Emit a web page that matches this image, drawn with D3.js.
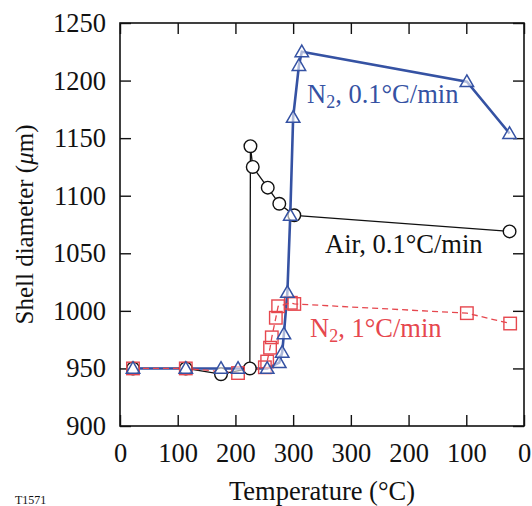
<!DOCTYPE html>
<html>
<head>
<meta charset="utf-8">
<script src="https://cdn.jsdelivr.net/npm/d3@7"></script>
<style>
  html, body { margin: 0; padding: 0; background: #fff; }
  svg { display: block; }
  text { font-family: "Liberation Serif", "Times New Roman", Times, serif; }
</style>
</head>
<body>
<svg id="chart" width="532" height="506"></svg>
<script>
// Process axis: heating 0 -> 300 °C, hold, then cooling 300 -> 0 °C.
// Each unit along the axis is one labelled step.
const xTickPos = [0, 1, 2, 3, 4, 5, 6, 7];
const xTickLabels = ["0", "100", "200", "300", "300", "200", "100", "0"];
const yTicks = [900, 950, 1000, 1050, 1100, 1150, 1200, 1250];

// Air, 0.1 °C/min
const airX = [0.225, 1.14, 1.75, 2.25, 2.26, 2.30, 2.56, 2.76, 3.02, 6.75];
const airY = [950, 950, 945, 950, 1143, 1125, 1107, 1093, 1083, 1069];

// N2, 1 °C/min
const n2FastX = [0.225, 1.14, 2.045, 2.51, 2.55, 2.60, 2.63, 2.70, 2.74, 2.96, 3.02, 6.01, 6.76];
const n2FastY = [950, 950, 946, 951, 956, 968, 977, 994, 1004, 1007, 1006, 998, 989];

// N2, 0.1 °C/min
const n2SlowX = [0.225, 1.14, 1.75, 2.045, 2.55, 2.76, 2.81, 2.84, 2.90, 2.95, 3.00, 3.10, 3.15, 6.01, 6.75];
const n2SlowY = [950, 950, 950, 950, 950, 955, 964, 980, 1016, 1083, 1168, 1213, 1225, 1199, 1154];

const BLUE = "#3552a3";
const RED = "#e6474e";

const svg = d3.select("#chart");
const plotL = 120, plotR = 524, plotT = 23, plotB = 426;

const x = d3.scaleLinear().domain([0, 7]).range([plotL, plotR]);
const y = d3.scaleLinear().domain([900, 1250]).range([plotB, plotT]);

const zip = (xs, ys) => xs.map((v, i) => ({ x: v, y: ys[i] }));
const air = zip(airX, airY);
const n2Fast = zip(n2FastX, n2FastY);
const n2Slow = zip(n2SlowX, n2SlowY);

const line = d3.line().x(d => x(d.x)).y(d => y(d.y));

// Axes: ticks point inwards on all four sides
const tickLen = 11;
const fontSize = 26.5;

const xAxisB = d3.axisBottom(x).tickValues(xTickPos).tickSize(-tickLen).tickFormat((d, i) => xTickLabels[i]).tickPadding(17);
const xAxisT = d3.axisTop(x).tickValues(xTickPos).tickSize(-tickLen).tickFormat("");
const yAxisL = d3.axisLeft(y).tickValues(yTicks).tickSize(-tickLen).tickFormat(d3.format("d")).tickPadding(14);
const yAxisR = d3.axisRight(y).tickValues(yTicks).tickSize(-tickLen).tickFormat("");

function styleAxis(g) {
  g.select(".domain").remove();
  g.selectAll(".tick line").attr("stroke", "#111").attr("stroke-width", 1.4);
  g.selectAll(".tick text").attr("fill", "#111").style("font-size", fontSize + "px")
    .style("font-family", '"Liberation Serif", "Times New Roman", serif');
}

svg.append("g").attr("transform", `translate(0,${plotB})`).call(xAxisB).call(styleAxis);
svg.append("g").attr("transform", `translate(0,${plotT})`).call(xAxisT).call(styleAxis);
svg.append("g").attr("transform", `translate(${plotL},0)`).call(yAxisL).call(styleAxis);
svg.append("g").attr("transform", `translate(${plotR},0)`).call(yAxisR).call(styleAxis);

svg.append("rect")
  .attr("x", plotL).attr("y", plotT)
  .attr("width", plotR - plotL).attr("height", plotB - plotT)
  .attr("fill", "none").attr("stroke", "#111").attr("stroke-width", 1.6);

// Series lines
svg.append("path").datum(air).attr("d", line)
  .attr("fill", "none").attr("stroke", "#111").attr("stroke-width", 1.3);
svg.append("path").datum(n2Slow).attr("d", line)
  .attr("fill", "none").attr("stroke", BLUE).attr("stroke-width", 2.6);
svg.append("path").datum(n2Fast).attr("d", line)
  .attr("fill", "none").attr("stroke", RED).attr("stroke-width", 1.3)
  .attr("stroke-dasharray", "6,4");

// Markers
svg.append("g").selectAll("circle").data(air).join("circle")
  .attr("cx", d => x(d.x)).attr("cy", d => y(d.y)).attr("r", 6.3)
  .attr("fill", "#fff").attr("stroke", "#111").attr("stroke-width", 1.4);

const sq = 12.5;
svg.append("g").selectAll("rect").data(n2Fast).join("rect")
  .attr("x", d => x(d.x) - sq / 2).attr("y", d => y(d.y) - sq / 2)
  .attr("width", sq).attr("height", sq)
  .attr("fill", "none").attr("stroke", RED).attr("stroke-width", 1.4);

const tri = d3.symbol().type(d3.symbolTriangle).size(78);
svg.append("g").selectAll("path").data(n2Slow).join("path")
  .attr("d", tri)
  .attr("transform", d => `translate(${x(d.x)},${y(d.y) + 1})`)
  .attr("fill", "#fff").attr("fill-opacity", 0.6).attr("stroke", BLUE).attr("stroke-width", 1.5);

// Series labels
function seriesLabel(px, py, color, sub, rest) {
  const t = svg.append("text").attr("x", px).attr("y", py).attr("fill", color)
    .style("font-size", fontSize + "px");
  if (sub) {
    t.append("tspan").text("N");
    t.append("tspan").attr("dy", 5).style("font-size", "18px").text("2");
    t.append("tspan").attr("dy", -5).text(rest);
  } else {
    t.text(rest);
  }
}
seriesLabel(307, 103, BLUE, true, ", 0.1°C/min");
seriesLabel(325, 253, "#111", false, "Air, 0.1°C/min");
seriesLabel(310, 337, RED, true, ", 1°C/min");

// Axis titles
svg.append("text")
  .attr("x", (plotL + plotR) / 2).attr("y", 500)
  .attr("text-anchor", "middle").attr("fill", "#111")
  .style("font-size", fontSize + "px")
  .text("Temperature (°C)");

const yt = svg.append("text")
  .attr("transform", `translate(33,${(plotT + plotB) / 2}) rotate(-90)`)
  .attr("text-anchor", "middle").attr("fill", "#111")
  .style("font-size", "25px");
yt.append("tspan").text("Shell diameter (");
yt.append("tspan").style("font-style", "italic").text("μ");
yt.append("tspan").text("m)");

// Figure code
svg.append("text").attr("x", 15).attr("y", 504).attr("fill", "#111")
  .style("font-size", "12px").text("T1571");
</script>
</body>
</html>
